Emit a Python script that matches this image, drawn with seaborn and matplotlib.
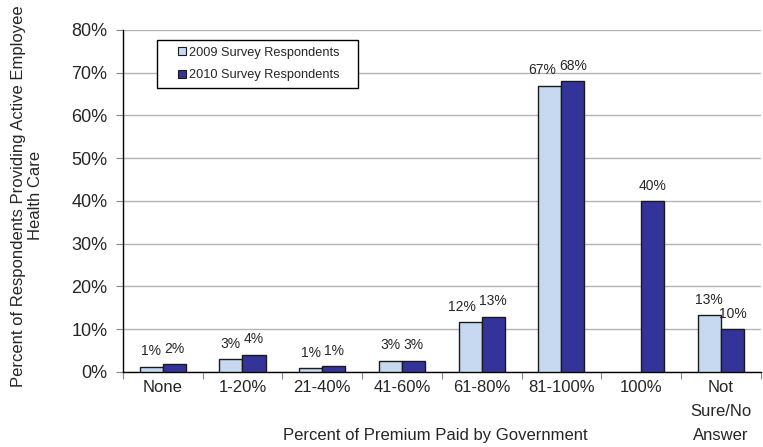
import numpy as np
import pandas as pd
import matplotlib
matplotlib.use("Agg")
import matplotlib.pyplot as plt
import seaborn as sns
from matplotlib.patches import Rectangle
from matplotlib.ticker import FuncFormatter, FixedLocator

categories = ["None", "1-20%", "21-40%", "41-60%", "61-80%", "81-100%", "100%", "Not\nSure/No\nAnswer"]
series = ["2009 Survey Respondents", "2010 Survey Respondents"]
values_2009 = [1.2, 3.0, 0.9, 2.6, 11.7, 67.0, np.nan, 13.2]
values_2010 = [1.8, 4.0, 1.3, 2.6, 12.9, 68.0, 40.0, 10.0]
y_ticks = [0, 10, 20, 30, 40, 50, 60, 70, 80]

df = pd.DataFrame({
    "Category": categories * 2,
    "Series": [series[0]] * len(categories) + [series[1]] * len(categories),
    "Value": values_2009 + values_2010,
})

sns.set_style("white")
plt.rcParams["font.family"] = ["Liberation Sans", "DejaVu Sans"]

fig = plt.figure(figsize=(7.63, 4.47), dpi=100)
ax = fig.add_axes([0.161, 0.168, 0.836, 0.765])

palette = {series[0]: "#C6D9F0", series[1]: "#333399"}
sns.barplot(
    data=df, x="Category", y="Value", hue="Series",
    order=categories, hue_order=series, palette=palette,
    width=0.58, edgecolor="#1a1a1a", linewidth=1.0,
    saturation=1, errorbar=None, ax=ax, zorder=3,
)

labels = [ax.bar_label(c, fmt=lambda v: f"{v:.0f}%", padding=6, fontsize=10) for c in ax.containers]

ax.set_ylim(0, 80)
ax.set_xlim(-0.5, len(categories) - 0.5)
ax.set_yticks(y_ticks)
ax.yaxis.set_major_formatter(FuncFormatter(lambda v, p: f"{v:.0f}%"))
ax.grid(axis="y", color="#b3b3b3", linewidth=1, zorder=0)
ax.set_axisbelow(True)

ax.tick_params(axis="y", which="major", left=True, length=5, width=0.8, color="#888888",
               labelsize=13, pad=6)
ax.tick_params(axis="x", which="major", bottom=False, labelsize=12, pad=2)
for t in ax.get_xticklabels():
    t.set_linespacing(1.75)
ax.xaxis.set_minor_locator(FixedLocator(np.arange(-0.5, len(categories), 1.0)))
ax.tick_params(axis="x", which="minor", bottom=True, length=5, width=0.8, color="#888888")

for side in ["top", "right"]:
    ax.spines[side].set_visible(False)
for side in ["left", "bottom"]:
    ax.spines[side].set_color("black")
    ax.spines[side].set_linewidth(1.0)

ax.set_xlabel("Percent of Premium Paid by Government", fontsize=12)
ax.xaxis.set_label_coords(0.49, -0.165)
ax.set_ylabel("Percent of Respondents Providing Active Employee\nHealth Care", fontsize=12)
ax.yaxis.set_label_coords(-0.125, 0.515)

# legend box drawn as a plain rectangle, legend itself frameless inside it
ax.add_patch(Rectangle((0.053, 0.830), 0.316, 0.141, transform=ax.transAxes,
                       facecolor="white", edgecolor="black", linewidth=1.0, zorder=5))
leg = ax.legend(loc="center", bbox_to_anchor=(0.213, 0.9005), borderaxespad=0,
                fontsize=9.2, frameon=False, handlelength=0.6, handleheight=0.6,
                handletextpad=0.2, borderpad=0.2, labelspacing=0.8)
leg.set_zorder(6)
for h in leg.legend_handles:
    h.set_edgecolor("#1a1a1a")
    h.set_linewidth(0.8)

# nudge the 2009 label left where it would collide with the 2010 one
fig.canvas.draw()
r = fig.canvas.get_renderer()
left_bars = {round(p.get_x() + p.get_width(), 3): t for p, t in zip(ax.containers[0], labels[0])}
for p, t in zip(ax.containers[1], labels[1]):
    a = left_bars.get(round(p.get_x(), 3))
    if a is None:
        continue
    ea, eb = a.get_window_extent(r), t.get_window_extent(r)
    if ea.x1 > eb.x0 - 2 and abs(ea.y0 - eb.y0) < 0.6 * ea.height:
        shift = (ea.x1 - eb.x0 + 3) * 72 / fig.dpi
        a.xyann = (a.xyann[0] - shift, a.xyann[1])

fig.savefig("out.png", dpi=100)
